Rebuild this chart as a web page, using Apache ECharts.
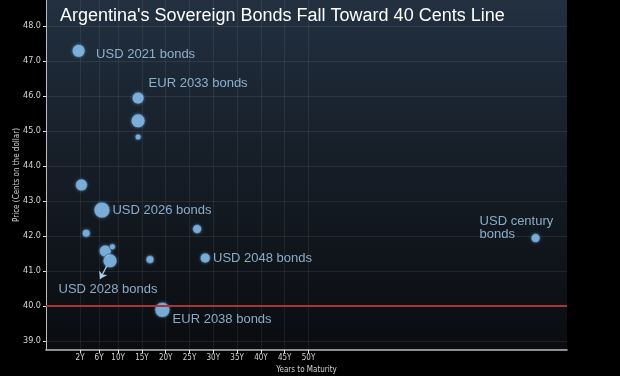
<!DOCTYPE html>
<html>
<head>
<meta charset="utf-8">
<script src="https://cdn.jsdelivr.net/npm/echarts@6/dist/echarts.min.js"></script>
<style>
  html, body { margin: 0; padding: 0; background: #000; }
  #chart { width: 620px; height: 376px; }
</style>
</head>
<body>
<div id="chart"></div>
<script>
// years to maturity, price (cents on the dollar), bubble size
var years  = [1.7, 14.2, 14.2, 14.2, 2.3, 6.6, 3.3, 7.3, 8.8, 8.3, 16.7, 26.6, 28.3, 19.3, 97.7];
var prices = [47.29, 45.94, 45.29, 44.83, 43.46, 42.74, 42.08, 41.57, 41.69, 41.29, 41.33, 42.2, 41.37, 39.89, 41.94];
var sizes  = [13, 12, 14, 6, 12, 16, 8, 12, 6, 14, 8, 9, 10, 15, 9];
var notes  = ['USD 2021 bonds', 'EUR 2033 bonds', '', '', '', 'USD 2026 bonds', '', '', '', 'USD 2028 bonds',
              '', '', 'USD 2048 bonds', 'EUR 2038 bonds', 'USD century\nbonds'];

var xTicks = [2, 6, 10, 15, 20, 25, 30, 35, 40, 45, 50];
var yTicks = [39, 40, 41, 42, 43, 44, 45, 46, 47, 48];
var floorLine = 40;
var arrow = [[7.6, 41.14], [6.2, 40.77]];

// where each note sits relative to its bubble
var notePos = {
    0: [24.5, 3],
    1: [17, -15.5],
    5: [19, 1.5],
    9: [-44, 28.5],
    12: [13.3, -1.5],
    13: [18.2, 10],
    14: [-51, -18]
};

var chart = echarts.init(document.getElementById('chart'));

var points = years.map(function (x, i) {
    var item = { value: [x, prices[i]], symbolSize: sizes[i] };
    if (notes[i]) {
        item.label = {
            show: true,
            formatter: notes[i],
            position: notePos[i],
            align: 'left',
            verticalAlign: 'top',
            color: '#a9cff2',
            fontFamily: 'Liberation Sans',
            fontSize: 13,
            lineHeight: i === 14 ? 13 : 15
        };
    }
    return item;
});

var axisText = { color: '#d4d4d4', fontFamily: 'DejaVu Sans Condensed' };

var option = {
    backgroundColor: '#000',
    animation: false,
    title: {
        text: "Argentina's Sovereign Bonds Fall Toward 40 Cents Line",
        left: 55,
        top: 2,
        textStyle: { color: '#fff', fontFamily: 'Liberation Sans', fontWeight: 'normal', fontSize: 18 }
    },
    grid: {
        left: 46, right: 53, top: 0, bottom: 26,
        outerBoundsMode: 'none',
        containLabel: false,
        show: true,
        borderWidth: 0,
        backgroundColor: new echarts.graphic.LinearGradient(0, 0, 0, 1, [
            { offset: 0, color: '#223040' },
            { offset: 0.45, color: '#161e28' },
            { offset: 1, color: '#0a0c0f' }
        ])
    },
    xAxis: {
        type: 'value',
        min: -5.15,
        max: 104.3,
        name: 'Years to Maturity',
        nameLocation: 'middle',
        nameGap: 16,
        nameMoveOverlap: false,
        nameTextStyle: { color: '#d4d4d4', fontFamily: 'DejaVu Sans Condensed', fontSize: 8 },
        axisLine: { onZero: false, lineStyle: { color: '#bdbdbd', width: 1.5 } },
        axisTick: { customValues: xTicks, length: 3, lineStyle: { color: '#e0e0e0' } },
        axisLabel: {
            customValues: xTicks,
            margin: 4,
            fontSize: 8,
            color: axisText.color,
            fontFamily: axisText.fontFamily,
            formatter: function (v) { return v + 'Y'; }
        },
        splitLine: { show: true, lineStyle: { color: 'rgba(255,255,255,0.07)', width: 1 } }
    },
    yAxis: {
        type: 'value',
        min: 38.743,
        max: 48.743,
        name: 'Price (Cents on the dollar)',
        nameLocation: 'middle',
        nameGap: 25,
        nameMoveOverlap: false,
        nameTextStyle: { color: '#d4d4d4', fontFamily: 'DejaVu Sans Condensed', fontSize: 8 },
        axisLine: { show: true, onZero: false, lineStyle: { color: '#bdbdbd', width: 1 } },
        axisTick: { show: true, customValues: yTicks, length: 3, lineStyle: { color: '#e0e0e0' } },
        axisLabel: {
            customValues: yTicks,
            margin: 5,
            fontSize: 9,
            color: axisText.color,
            fontFamily: axisText.fontFamily,
            formatter: function (v) { return v.toFixed(1); }
        },
        splitLine: { show: true, lineStyle: { color: 'rgba(255,255,255,0.08)', width: 1 } }
    },
    series: [
        {
            type: 'line',
            data: [],
            z: 1,
            markLine: {
                silent: true,
                symbol: 'none',
                label: { show: false },
                lineStyle: { color: '#a83434', width: 2, type: 'solid' },
                data: [{ yAxis: floorLine }]
            }
        },
        {
            type: 'scatter',
            z: 3,
            data: points,
            itemStyle: {
                color: '#8cc6f6',
                borderColor: 'rgba(30,60,90,0.7)',
                borderWidth: 1,
                shadowColor: 'rgba(140,198,246,0.35)',
                shadowBlur: 3
            },
            markLine: {
                silent: true,
                symbol: ['none', 'arrow'],
                symbolSize: 7,
                label: { show: false },
                lineStyle: { color: '#a9cff2', width: 1.2, type: 'solid' },
                data: [[{ coord: arrow[0] }, { coord: arrow[1] }]]
            }
        }
    ]
};

chart.setOption(option);
</script>
</body>
</html>
